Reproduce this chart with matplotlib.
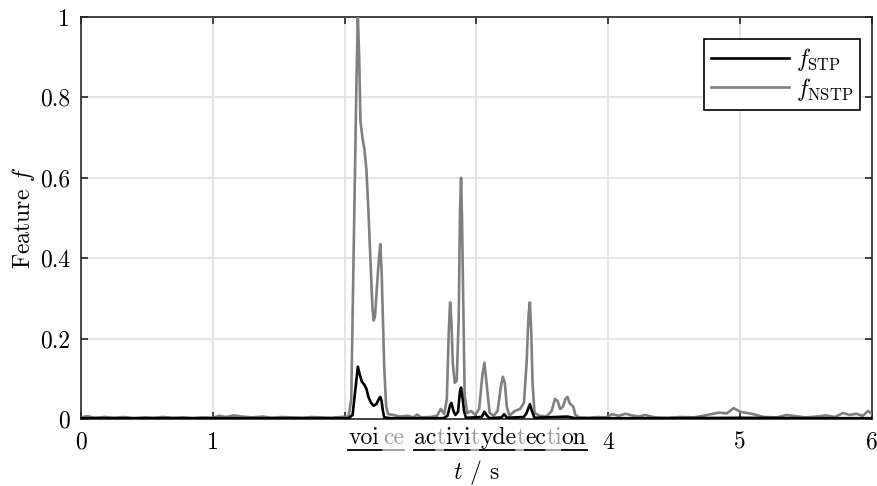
import matplotlib
matplotlib.use("Agg")
import matplotlib.pyplot as plt
from matplotlib.lines import Line2D

plt.rcParams['font.family'] = ['cmr10', 'DejaVu Serif']
plt.rcParams['mathtext.fontset'] = 'cm'
plt.rcParams['axes.unicode_minus'] = False
plt.rcParams['axes.formatter.use_mathtext'] = True

# --- data ---
t_nstp = [0.00, 0.05, 0.10, 0.18, 0.25, 0.32, 0.40, 0.48, 0.55, 0.62,
          0.70, 0.78, 0.85, 0.92, 1.00, 1.05, 1.10, 1.16, 1.22, 1.30,
          1.38, 1.45, 1.52, 1.60, 1.68, 1.75, 1.82, 1.90, 1.97, 2.03,
          2.05, 2.07, 2.09, 2.10, 2.11, 2.12, 2.135, 2.15, 2.165, 2.18,
          2.195, 2.21, 2.22, 2.23, 2.245, 2.26, 2.27, 2.28, 2.29, 2.30,
          2.315, 2.33, 2.37, 2.42, 2.48, 2.52, 2.55, 2.58, 2.65, 2.70,
          2.73, 2.755, 2.775, 2.79, 2.80, 2.81, 2.82, 2.835, 2.85, 2.865,
          2.875, 2.883, 2.89, 2.90, 2.91, 2.93, 2.96, 2.99, 3.02, 3.045,
          3.06, 3.07, 3.085, 3.10, 3.13, 3.16, 3.185, 3.20, 3.215, 3.23,
          3.25, 3.29, 3.33, 3.36, 3.38, 3.395, 3.405, 3.415, 3.425, 3.44,
          3.48, 3.53, 3.57, 3.595, 3.615, 3.635, 3.655, 3.675, 3.69, 3.705,
          3.72, 3.735, 3.75, 3.78, 3.85, 3.92, 3.98, 4.03, 4.08, 4.13,
          4.18, 4.23, 4.28, 4.35, 4.45, 4.55, 4.65, 4.72, 4.78, 4.84,
          4.90, 4.95, 5.00, 5.05, 5.10, 5.18, 5.28, 5.35, 5.42, 5.50,
          5.58, 5.65, 5.72, 5.78, 5.83, 5.88, 5.93, 5.97, 6.00]
f_nstp = [0.004, 0.007, 0.003, 0.005, 0.003, 0.005, 0.002, 0.004, 0.003, 0.005,
          0.003, 0.004, 0.002, 0.004, 0.003, 0.008, 0.005, 0.009, 0.006, 0.004,
          0.006, 0.003, 0.005, 0.004, 0.003, 0.005, 0.004, 0.003, 0.005, 0.006,
          0.05, 0.45, 0.85, 1.00, 0.90, 0.74, 0.70, 0.67, 0.62, 0.52,
          0.40, 0.28, 0.245, 0.255, 0.33, 0.40, 0.435, 0.37, 0.25, 0.13,
          0.03, 0.012, 0.010, 0.006, 0.008, 0.004, 0.011, 0.004, 0.005, 0.008,
          0.025, 0.012, 0.05, 0.22, 0.29, 0.24, 0.14, 0.09, 0.095, 0.25,
          0.52, 0.60, 0.50, 0.28, 0.06, 0.015, 0.02, 0.01, 0.025, 0.11,
          0.14, 0.11, 0.06, 0.015, 0.008, 0.02, 0.08, 0.105, 0.09, 0.03,
          0.008, 0.02, 0.025, 0.04, 0.14, 0.26, 0.29, 0.22, 0.09, 0.015,
          0.008, 0.006, 0.02, 0.05, 0.045, 0.025, 0.03, 0.05, 0.055, 0.04,
          0.035, 0.03, 0.01, 0.004, 0.003, 0.005, 0.004, 0.012, 0.008, 0.013,
          0.009, 0.006, 0.010, 0.004, 0.003, 0.005, 0.004, 0.008, 0.012, 0.016,
          0.014, 0.027, 0.018, 0.015, 0.012, 0.005, 0.004, 0.010, 0.007, 0.004,
          0.006, 0.009, 0.005, 0.015, 0.010, 0.013, 0.008, 0.020, 0.012]

t_stp = [0.00, 0.50, 1.00, 1.50, 2.03, 2.06, 2.08, 2.10, 2.115, 2.13,
         2.15, 2.165, 2.18, 2.20, 2.22, 2.24, 2.26, 2.27, 2.28, 2.29,
         2.30, 2.35, 2.60, 2.75, 2.78, 2.80, 2.81, 2.825, 2.84, 2.86,
         2.875, 2.883, 2.895, 2.905, 2.92, 3.04, 3.06, 3.08, 3.10, 3.19,
         3.21, 3.23, 3.36, 3.38, 3.405, 3.42, 3.44, 3.60, 3.69, 3.75,
         4.50, 5.00, 5.50, 6.00]
f_stp = [0.002, 0.002, 0.002, 0.002, 0.002, 0.010, 0.07, 0.13, 0.11, 0.093,
         0.085, 0.075, 0.055, 0.040, 0.033, 0.037, 0.050, 0.055, 0.045, 0.020,
         0.004, 0.002, 0.002, 0.002, 0.008, 0.035, 0.040, 0.020, 0.010, 0.018,
         0.070, 0.078, 0.050, 0.020, 0.003, 0.005, 0.018, 0.008, 0.002, 0.004,
         0.012, 0.003, 0.005, 0.015, 0.037, 0.020, 0.003, 0.005, 0.006, 0.002,
         0.002, 0.003, 0.002, 0.002]

x_ticks = [0, 1, 2, 3, 4, 5, 6]
x_tick_labels = ["0", "1", "", "", "4", "5", "6"]  # 2 and 3 are covered by the syllables
y_ticks = [0, 0.2, 0.4, 0.6, 0.8, 1]
y_tick_labels = ["0", "0.2", "0.4", "0.6", "0.8", "1"]

# syllables below the axis: (text, voiced?)
syllables = [("voi", True), ("ce", False), ("ac", True), ("t", False), ("ivi", True),
             ("t", False), ("yde", True), ("t", False), ("ec", True), ("ti", False),
             ("on", True)]
syl_start = 2.026

GRAY = "#808080"
LIGHT = "#9a9a9a"
FS = 17

fig = plt.figure(figsize=(8.77, 4.86), dpi=100)
ax = fig.add_axes([81 / 877, 67 / 486, 791 / 877, 402 / 486])

ax.plot(t_nstp, f_nstp, color=GRAY, lw=1.9, zorder=3)
ax.plot(t_stp, f_stp, color="black", lw=1.9, zorder=4)

ax.set_xlim(0, 6)
ax.set_ylim(0, 1)
ax.set_xticks(x_ticks)
ax.set_xticklabels(x_tick_labels)
ax.set_yticks(y_ticks)
ax.set_yticklabels(y_tick_labels)
ax.grid(True, color="#e3e3e3", lw=1.3)
ax.set_axisbelow(True)
for sp in ax.spines.values():
    sp.set_color("#262626")
    sp.set_linewidth(1.2)
ax.tick_params(direction="in", length=5, width=1.2, top=True, right=True,
               labelsize=FS, color="#262626")
ax.tick_params(axis="x", pad=9)
ax.tick_params(axis="y", pad=8)

ax.set_ylabel(r"Feature $f$", fontsize=FS)
ax.yaxis.set_label_coords(-0.056, 0.5)
ax.set_xlabel(r"$t$ / s", fontsize=FS)
ax.xaxis.set_label_coords(0.5, -0.098)

handles = [Line2D([], [], color="black", lw=1.9), Line2D([], [], color=GRAY, lw=1.9)]
leg = ax.legend(handles, [r"$f_{\mathrm{STP}}$", r"$f_{\mathrm{NSTP}}$"],
                loc="upper right", bbox_to_anchor=(0.985, 0.945), fontsize=FS,
                fancybox=False, framealpha=1, edgecolor="black", handlelength=3.3,
                borderpad=0.3, labelspacing=0.1, handletextpad=0.3,
                borderaxespad=0)
leg.get_frame().set_linewidth(1.2)

# syllable row, each piece chained to the previous one
texts = []
prev = None
for i, (s, voiced) in enumerate(syllables):
    col = "black" if voiced else LIGHT
    if prev is None:
        txt = ax.text(syl_start, -0.062, s, fontsize=FS, color=col, va="baseline",
                      ha="left", transform=ax.get_xaxis_transform(), clip_on=False)
    else:
        gap = 0
        if i == 1:
            gap = 3
        elif i == 2:
            gap = 7
        txt = ax.annotate(s, xy=(1, 0), xycoords=prev, xytext=(gap, 0),
                          textcoords="offset points", fontsize=FS, color=col,
                          va="bottom", ha="left", annotation_clip=False)
    texts.append(txt)
    prev = txt

fig.canvas.draw()
r = fig.canvas.get_renderer()
inv = fig.transFigure.inverted()
line_y = (486 - 450) / 486
for i, txt in enumerate(texts):
    bb = txt.get_window_extent(r)
    x0 = bb.x0
    if i == 1 or i + 1 == len(texts):
        x1 = bb.x1
    else:
        x1 = texts[i + 1].get_window_extent(r).x0
    fx0 = inv.transform((x0, 0))[0]
    fx1 = inv.transform((x1, 0))[0]
    col = "black" if syllables[i][1] else LIGHT
    fig.add_artist(Line2D([fx0, fx1], [line_y, line_y], color=col, lw=1.3,
                          transform=fig.transFigure))

fig.savefig("out.png", dpi=100)
